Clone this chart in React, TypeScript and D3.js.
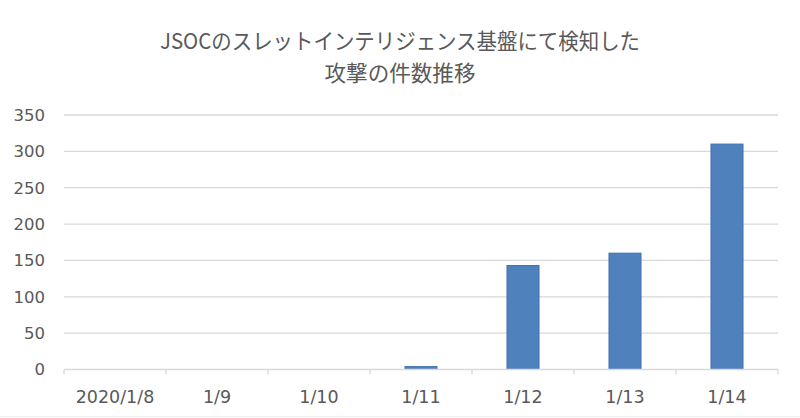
import React from "react";
import * as d3 from "d3";

const categories = ["2020/1/8", "1/9", "1/10", "1/11", "1/12", "1/13", "1/14"];
const values = [0, 0, 0, 4, 143, 160, 310];
const yTicks = [0, 50, 100, 150, 200, 250, 300, 350];
const titleLines = ["JSOCのスレットインテリジェンス基盤にて検知した", "攻撃の件数推移"];

const W = 800;
const H = 418;
const plot = { left: 64, right: 778, top: 115, bottom: 369.5 };

export default function App() {
  const x = d3
    .scaleBand<string>()
    .domain(categories)
    .range([plot.left, plot.right])
    .paddingInner(0.686)
    .paddingOuter(0.343);
  const xCat = d3.scaleBand<string>().domain(categories).range([plot.left, plot.right]);
  const y = d3.scaleLinear().domain([0, 350]).range([plot.bottom, plot.top]);
  const font = "'DejaVu Sans', Verdana, sans-serif";
  const jp = "'Noto Sans CJK JP', sans-serif";
  const tickPositions = categories.map((c) => xCat(c)!).concat([plot.right]);

  return (
    <svg
      width={W}
      height={H}
      style={{ position: "absolute", left: 0, top: 0, background: "#fff" }}
    >
      <rect x={0} y={0} width={W} height={H} fill="#fff" />
      <text
        x={400}
        y={49}
        textAnchor="middle"
        fontFamily={jp}
        fontSize={22}
        fill="#595959"
        textLength={480}
        lengthAdjust="spacingAndGlyphs"
      >
        {titleLines[0]}
      </text>
      <text
        x={400}
        y={81}
        textAnchor="middle"
        fontFamily={jp}
        fontSize={22}
        fill="#595959"
        textLength={151}
        lengthAdjust="spacingAndGlyphs"
      >
        {titleLines[1]}
      </text>
      {yTicks.slice(1).map((t) => (
        <line
          key={"g" + t}
          x1={plot.left}
          x2={plot.right}
          y1={y(t)}
          y2={y(t)}
          stroke="#d9d9d9"
          strokeWidth={1.3}
        />
      ))}
      {yTicks.map((t) => (
        <text
          key={"yl" + t}
          x={45}
          y={y(t)}
          dy="0.36em"
          textAnchor="end"
          fontFamily={font}
          fontSize={16.5}
          fill="#595959"
        >
          {t}
        </text>
      ))}
      {categories.map((c, i) => (
        <rect
          key={"b" + c}
          x={x(c)}
          y={y(values[i])}
          width={x.bandwidth()}
          height={plot.bottom - y(values[i])}
          fill="#4f81bd"
          stroke="#3f72b0"
          strokeWidth={1}
        />
      ))}
      <line
        x1={plot.left}
        x2={plot.right}
        y1={plot.bottom}
        y2={plot.bottom}
        stroke="#d9d9d9"
        strokeWidth={1.3}
      />
      {tickPositions.map((p, i) => (
        <line
          key={"t" + i}
          x1={p}
          x2={p}
          y1={plot.bottom}
          y2={plot.bottom + 5}
          stroke="#d9d9d9"
          strokeWidth={1.3}
        />
      ))}
      {categories.map((c) => (
        <text
          key={"xl" + c}
          x={xCat(c)! + xCat.bandwidth() / 2}
          y={403}
          textAnchor="middle"
          fontFamily={font}
          fontSize={17.5}
          fill="#595959"
        >
          {c}
        </text>
      ))}
      <line x1={0} x2={W} y1={416.5} y2={416.5} stroke="#eeeeee" strokeWidth={1} />
    </svg>
  );
}
